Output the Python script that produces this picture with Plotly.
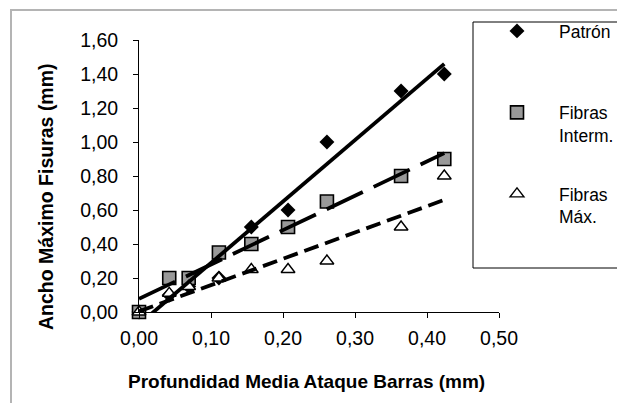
import numpy as np
import plotly.graph_objects as go

# ---- data ----
depth = [0.000, 0.042, 0.069, 0.111, 0.156, 0.207, 0.261, 0.364, 0.424]
patron = [0.00, 0.10, 0.15, 0.20, 0.50, 0.60, 1.00, 1.30, 1.40]
fibras_interm = [0.00, 0.20, 0.20, 0.35, 0.40, 0.50, 0.65, 0.80, 0.90]
fibras_max = [0.00, 0.11, 0.15, 0.20, 0.25, 0.25, 0.30, 0.50, 0.80]

series_names = ["Patrón<br>\u00a0", "Fibras<br>Interm.", "Fibras<br>Máx."]
x_ticks = [0.0, 0.1, 0.2, 0.3, 0.4, 0.5]
y_ticks = [0.0, 0.2, 0.4, 0.6, 0.8, 1.0, 1.2, 1.4, 1.6]
x_title = "Profundidad Media Ataque Barras (mm)"
y_title = "Ancho Máximo Fisuras (mm)"

FONT = "Liberation Sans, Arial, sans-serif"

W, H = 617, 403
PLOT_L, PLOT_T, PW, PH = 139, 40, 360, 272   # page pixels of the plot area
ML, MT = PLOT_L, PLOT_T
MR, MB = W - ML - PW, H - MT - PH


def px_x(p):  # page px -> paper fraction
    return (p - PLOT_L) / PW


def px_y(p):
    return 1 - (p - PLOT_T) / PH


fig = go.Figure()

marker_styles = [
    dict(symbol="diamond", size=11.5, color="black", line=dict(color="black", width=0)),
    dict(symbol="square", size=13, color="#999999", line=dict(color="black", width=1.6)),
    dict(symbol="triangle-up", size=12, color="white", line=dict(color="black", width=1.4)),
]
line_styles = [
    dict(color="black", width=3.8, dash="solid"),
    dict(color="black", width=3.8, dash="40px,12px"),
    dict(color="black", width=3.8, dash="15px,7px"),
]

xs = np.array(depth)
all_series = [patron, fibras_interm, fibras_max]

for i, ys in enumerate(all_series):
    fig.add_trace(go.Scatter(
        x=depth, y=ys, mode="markers", name=series_names[i],
        marker=marker_styles[i], cliponaxis=False,
        legendgroup=f"g{i}", showlegend=True,
    ))

for i, ys in enumerate(all_series):
    slope, intercept = np.polyfit(xs, np.array(ys), 1)
    xl = np.array([xs.min(), xs.max()])
    fig.add_trace(go.Scatter(
        x=xl, y=slope * xl + intercept, mode="lines",
        line=line_styles[i], showlegend=False, hoverinfo="skip",
    ))

axis_common = dict(
    showline=True, linecolor="black", linewidth=1,
    ticks="outside", ticklen=5, tickcolor="black", tickwidth=1,
    showgrid=False, zeroline=False, tickformat=".2f",
    tickfont=dict(family=FONT, size=19.5, color="black"),
)

fig.update_layout(
    width=W, height=H,
    margin=dict(l=ML, r=MR, t=MT, b=MB, pad=0, autoexpand=False),
    paper_bgcolor="white", plot_bgcolor="white",
    separators=",.",
    xaxis=dict(range=[0, 0.5], tickvals=x_ticks, ticklabelstandoff=4, **axis_common),
    yaxis=dict(range=[0, 1.6], tickvals=y_ticks, ticklabelstandoff=11, **axis_common),
    showlegend=True,
    legend=dict(
        x=px_x(475), y=px_y(13), xanchor="left", yanchor="top",
        font=dict(family=FONT, size=17.5, color="black"),
        bgcolor="rgba(0,0,0,0)", borderwidth=0,
        itemwidth=74, tracegroupgap=33, valign="top",
        traceorder="grouped", itemsizing="trace", maxheight=1,
    ),
    shapes=[
        dict(type="rect", xref="paper", yref="paper",
             x0=px_x(11), x1=px_x(640), y0=px_y(430), y1=px_y(10),
             line=dict(color="#b4b4b4", width=2), layer="below"),
        dict(type="rect", xref="paper", yref="paper",
             x0=px_x(473), x1=px_x(640), y0=px_y(268), y1=px_y(22),
             line=dict(color="black", width=1), layer="above"),
    ],
    annotations=[
        dict(text=f"<b>{x_title}</b>", xref="paper", yref="paper",
             x=px_x(306), y=px_y(381), xanchor="center", yanchor="middle",
             showarrow=False, font=dict(family=FONT, size=19, color="black")),
        dict(text=f"<b>{y_title}</b>", xref="paper", yref="paper",
             x=px_x(46), y=px_y(196), xanchor="center", yanchor="middle",
             textangle=-90, showarrow=False,
             font=dict(family=FONT, size=19.5, color="black")),
    ],
)

fig.write_html(
    "out.html",
    config={"displayModeBar": False},
    post_script="document.body.style.margin='0px';document.body.style.overflow='hidden';",
)
